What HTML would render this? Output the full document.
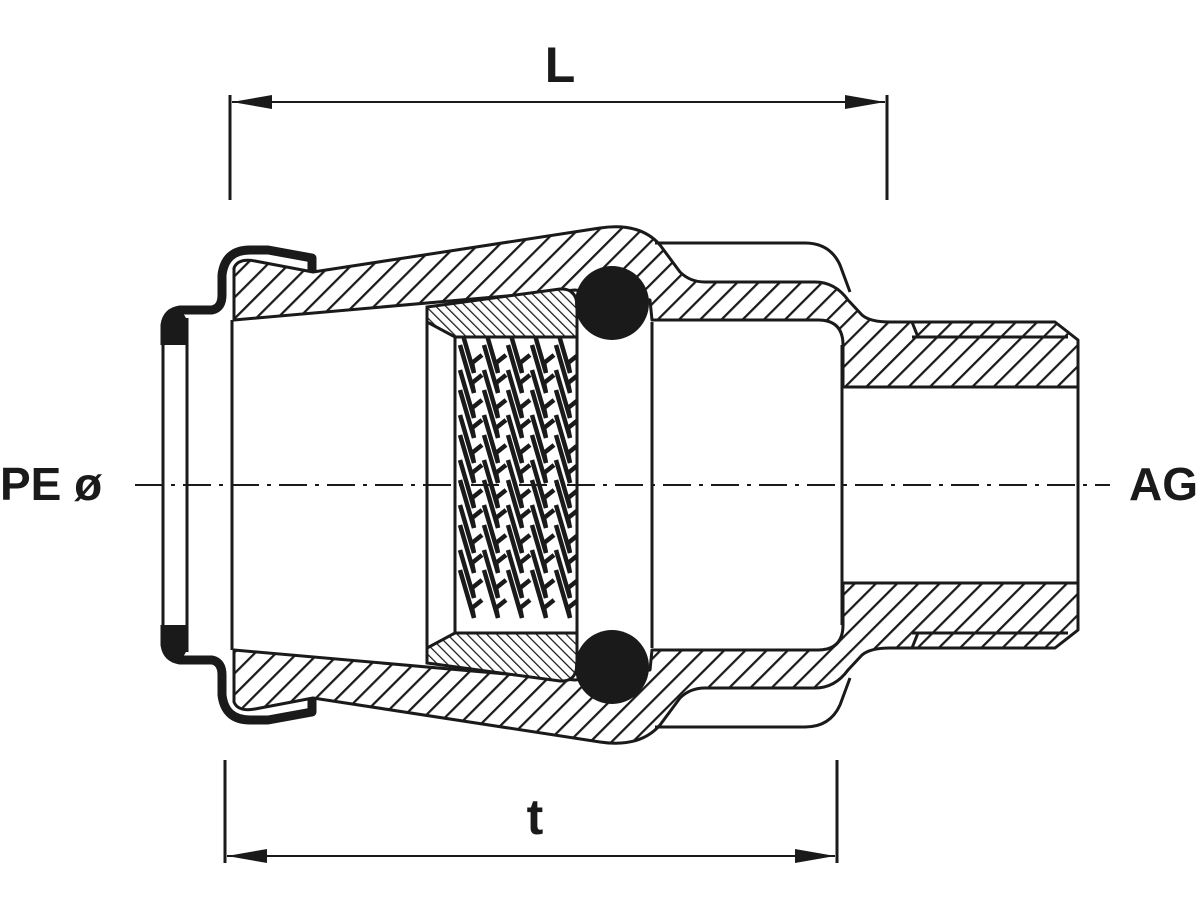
<!DOCTYPE html>
<html><head><meta charset="utf-8"><style>
html,body{margin:0;padding:0;background:#fff;}
svg{display:block}
text{font-family:"Liberation Sans",sans-serif;font-weight:bold;fill:#1a1a1a}
.hs{fill:var(--h);stroke:#1a1a1a;stroke-width:3;stroke-linejoin:round}
.hx{fill:var(--x);stroke:#1a1a1a;stroke-width:3}
.ln{fill:none;stroke:#1a1a1a;stroke-width:3}
.tt{fill:none;stroke:#1a1a1a;stroke-width:4.5;stroke-linejoin:miter}
</style></head><body>
<svg width="1200" height="900" viewBox="0 0 1200 900" xmlns="http://www.w3.org/2000/svg">
<defs>
<pattern id="h1" patternUnits="userSpaceOnUse" width="15" height="15" patternTransform="rotate(45)"><rect width="15" height="15" fill="#fff"/><line x1="0" y1="0" x2="0" y2="15" stroke="#1a1a1a" stroke-width="4.5"/></pattern>
<pattern id="h2" patternUnits="userSpaceOnUse" width="15" height="15" patternTransform="rotate(-45)"><rect width="15" height="15" fill="#fff"/><line x1="0" y1="0" x2="0" y2="15" stroke="#1a1a1a" stroke-width="4.5"/></pattern>
<pattern id="x1" patternUnits="userSpaceOnUse" width="7" height="7" patternTransform="rotate(-45)"><rect width="7" height="7" fill="#fff"/><line x1="0" y1="0" x2="0" y2="7" stroke="#1a1a1a" stroke-width="2.5"/></pattern>
<pattern id="x2" patternUnits="userSpaceOnUse" width="7" height="7" patternTransform="rotate(45)"><rect width="7" height="7" fill="#fff"/><line x1="0" y1="0" x2="0" y2="7" stroke="#1a1a1a" stroke-width="2.5"/></pattern>
<marker id="ar" viewBox="0 0 40 14" refX="40" refY="7" markerWidth="40" markerHeight="14" markerUnits="userSpaceOnUse" orient="auto-start-reverse"><path d="M0,0 L40,7 L0,14 Z" fill="#1a1a1a"/></marker>
<g id="half">
  <path class="hs" d="M234,320 L234,268 Q238,258 255,261 L313,272 L600,228 Q640,222 660,245 L680,272 Q690,282 705,282 L815,282 Q835,282 848,300 L862,315 Q870,322 890,322 L1055,322 L1078,340 L1078,387 L843,387 L843,345 Q843,320 818,320 L652,320 L650,300 L575,290 Z"/>
  <path class="ln" d="M655,243 L805,243 Q830,243 840,265 L850,292"/>
  <path class="ln" d="M912,337 L1068,337 M912,322 L918,337"/>
  <path class="hx" d="M427,307 L560,289 Q576,288 577,305 L577,337 L455,337 L427,322 Z"/>
  <path d="M165,345 L165,325 Q167,312 180,310 L212,310 Q222,308 222,295 L222,275 Q225,250 250,250 L268,250 L312,258 L312,272" fill="none" stroke="#1a1a1a" stroke-width="9" stroke-linejoin="round"/>
  <path d="M161,322 L180,308 L186,318 L186,345 L161,345 Z" fill="#1a1a1a"/>
  <circle cx="612" cy="303" r="37" fill="#1a1a1a"/>
  <path class="ln" d="M163,345 L163,485 M187,318 L187,485 M232,320 L232,485 M427,307 L427,485 M455,337 L455,485 M577,337 L577,485 M652,322 L652,485 M842,345 L842,485 M1078,387 L1078,485"/>
</g>
<g id="teeth">
  <path class="tt" d="M460,345 l14,48 l-2,-10 l10,-8 M460,390 l14,48 l-2,-10 l10,-8 M460,435 l14,48 l-2,-10 l10,-8 M460,480 l14,48 l-2,-10 l10,-8 M460,525 l14,48 l-2,-10 l10,-8 M460,570 l14,48 l-2,-10 l10,-8"/>
</g>
<clipPath id="tc"><rect x="456" y="338" width="120" height="294"/></clipPath>
</defs>
<g style="--h:url(#h1);--x:url(#x1)"><use href="#half"/></g>
<g style="--h:url(#h2);--x:url(#x2)" transform="translate(0,970) scale(1,-1)"><use href="#half"/></g>
<g clip-path="url(#tc)">
<use href="#teeth"/>
<use href="#teeth" x="24"/>
<use href="#teeth" x="48"/>
<use href="#teeth" x="72"/>
<use href="#teeth" x="96"/>
<use href="#teeth" x="0" y="-20"/>
<use href="#teeth" x="24" y="-20"/>
<use href="#teeth" x="48" y="-20"/>
<use href="#teeth" x="72" y="-20"/>
<use href="#teeth" x="96" y="-20"/>
</g>
<line x1="135" y1="485" x2="1110" y2="485" stroke="#1a1a1a" stroke-width="2" stroke-dasharray="28,8,4,8"/>
<line class="ln" x1="230" y1="95" x2="230" y2="200" stroke-width="2"/>
<line class="ln" x1="887" y1="95" x2="887" y2="200" stroke-width="2"/>
<line x1="232" y1="102" x2="885" y2="102" stroke="#1a1a1a" stroke-width="2" marker-start="url(#ar)" marker-end="url(#ar)"/>
<line class="ln" x1="225" y1="760" x2="225" y2="863" stroke-width="2"/>
<line class="ln" x1="837" y1="760" x2="837" y2="863" stroke-width="2"/>
<line x1="227" y1="856" x2="835" y2="856" stroke="#1a1a1a" stroke-width="2" marker-start="url(#ar)" marker-end="url(#ar)"/>
<text x="560" y="82" font-size="50" text-anchor="middle">L</text>
<text x="535" y="834" font-size="50" text-anchor="middle">t</text>
<text x="0" y="500" font-size="46">PE ø</text>
<text x="1198" y="500" font-size="46" text-anchor="end">AG</text>
</svg>
</body></html>
